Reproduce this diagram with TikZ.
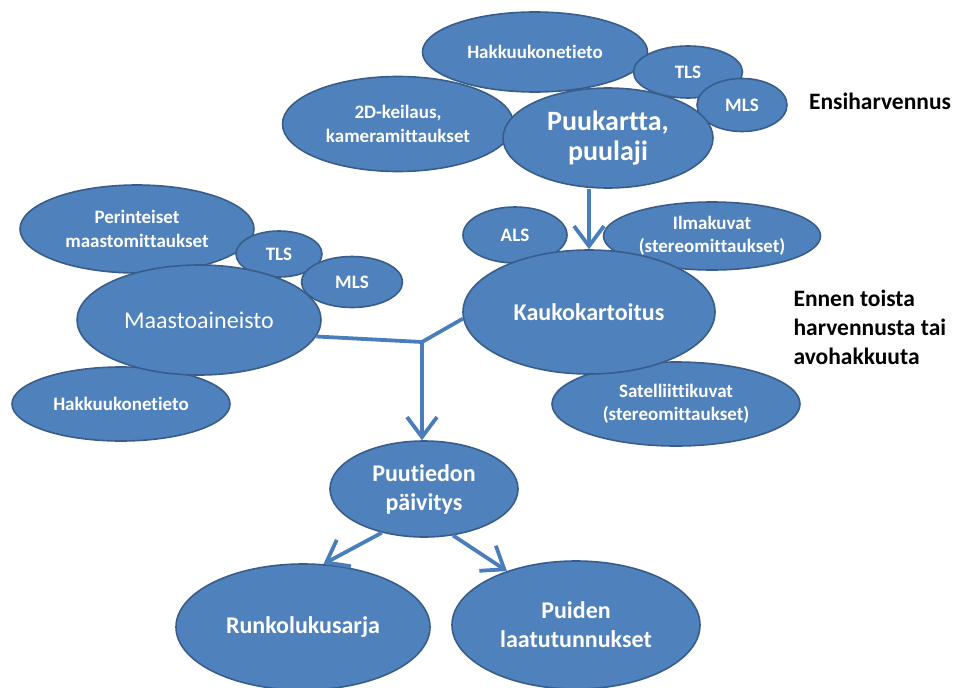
\documentclass[tikz,border=0pt]{standalone}
\usepackage{fontspec}
\setmainfont{Carlito}[Ligatures=NoCommon,RawFeature={-liga}]
\usetikzlibrary{shapes.geometric,arrows.meta}
\definecolor{boxfill}{HTML}{4F81BD}
\definecolor{boxline}{HTML}{385D8A}
\definecolor{arrowblue}{HTML}{4A7EBB}
\tikzset{
  oval/.style={ellipse, draw=boxline, line width=1.6pt, fill=boxfill, text=white,
    inner sep=0pt, align=center, font=\bfseries\fontsize{19}{23.5}\selectfont},
  bigtext/.style={font=\bfseries\fontsize{24}{29}\selectfont},
  sidelabel/.style={text=black, font=\bfseries\fontsize{23.5}{29}\selectfont},
  conn/.style={draw=arrowblue, line width=3.8pt},
  arr/.style={conn, -{Straight Barb[length=20pt,width=30pt]}},
}
\begin{document}
\begin{tikzpicture}[x=1pt,y=-1pt]
\useasboundingbox (0,0) rectangle (956,688);
% top cluster
\node[oval, minimum width=225pt, minimum height=80pt] (hakt) at (535,52) {Hakkuukonetieto};
\node[oval, minimum width=231pt, minimum height=95pt] (kei) at (398,124) {2D-keilaus,\\kameramittaukset};
\node[oval, minimum width=109pt, minimum height=52pt] (tlst) at (688,72) {TLS};
\node[oval, minimum width=90pt, minimum height=53pt] (mlst) at (742,105) {MLS};
\node[oval, minimum width=210pt, minimum height=100pt, font=\bfseries\fontsize{28}{30}\selectfont] (puuk) at (608,138) {Puukartta,\\puulaji};
\node[sidelabel] (ensi) at (880,101) {Ensiharvennus};
% left cluster
\node[oval, minimum width=234pt, minimum height=88pt] (per) at (137,229) {Perinteiset\\maastomittaukset};
\node[oval, minimum width=218pt, minimum height=74pt] (hakl) at (121,404) {Hakkuukonetieto};
\node[oval, minimum width=86pt, minimum height=46pt] (tlsl) at (279,254) {TLS};
\node[oval, minimum width=244pt, minimum height=110pt, font=\fontsize{24}{29}\selectfont] (maasto) at (199,320) {Maastoaineisto};
\node[oval, minimum width=101pt, minimum height=51pt] (mlsl) at (352,282) {MLS};
% middle right cluster
\node[oval, minimum width=104pt, minimum height=56pt] (als) at (515,235) {ALS};
\node[oval, minimum width=217pt, minimum height=68pt] (ilma) at (712,236) {Ilmakuvat\\(stereomittaukset)};
\node[oval, minimum width=248pt, minimum height=84pt] (sat) at (676,404) {Satelliittikuvat\\(stereomittaukset)};
\node[oval, minimum width=252pt, minimum height=124pt, bigtext] (kauk) at (589,312) {Kaukokartoitus};
\node[sidelabel, align=left, anchor=west] (ennen) at (790,327) {Ennen toista\\harvennusta tai\\avohakkuuta};
% bottom
\node[oval, minimum width=188pt, minimum height=96pt, bigtext] (puut) at (424,489) {Puutiedon\\päivitys};
\node[oval, minimum width=254pt, minimum height=126pt, bigtext] (runko) at (303,627) {Runkolukusarja};
\node[oval, minimum width=248pt, minimum height=128pt, bigtext] (laatu) at (576,625) {Puiden\\laatutunnukset};
% connectors
\coordinate (j) at (422,342);
\draw[conn] (maasto.-8) -- (j);
\draw[conn] (kauk.183) -- (j);
\draw[arr] (j) -- (j |- puut.north);
\draw[arr] (puuk.south -| kauk.north) -- (kauk.north);
\draw[arr] (puut.-134) -- (runko.72);
\draw[arr] (puut.-58) -- (laatu.142);
\end{tikzpicture}
\end{document}
